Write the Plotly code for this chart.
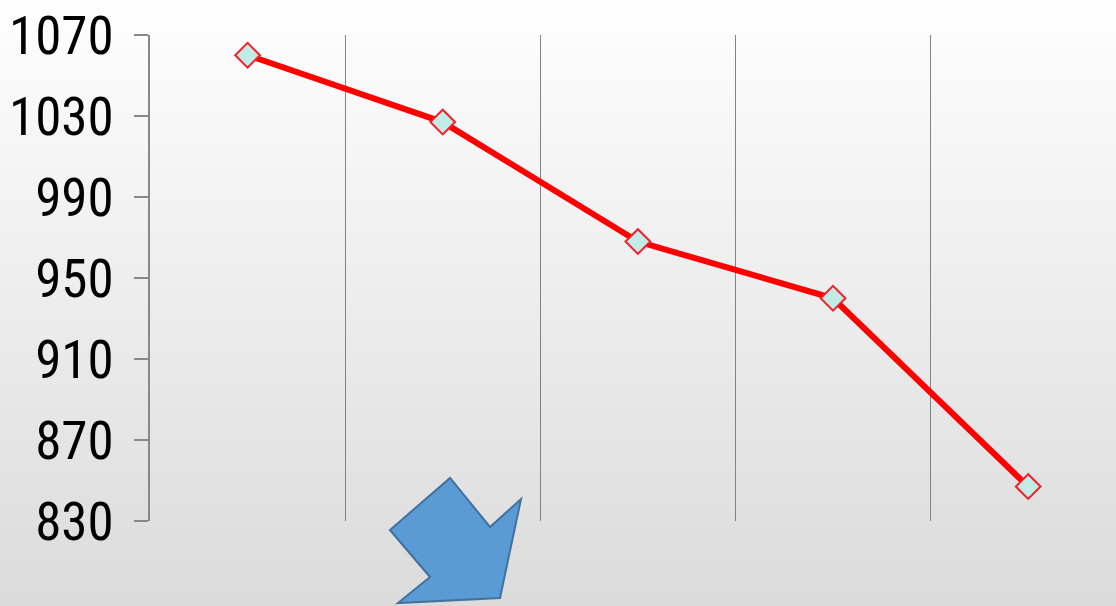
import plotly.graph_objects as go

categories = ["1", "2", "3", "4", "5"]
values = [1060, 1027, 968, 940, 847]
y_ticks = [830, 870, 910, 950, 990, 1030, 1070]

W, H = 1116, 606
L, T, B = 150, 35, 85
pw, ph = W - L, H - T - B

def px(x):
    return (x - L) / pw

def py(y):
    return (H - B - y) / ph

fig = go.Figure()
fig.add_trace(go.Scatter(
    x=categories, y=values, mode="lines+markers",
    line=dict(color="#ff0000", width=6),
    marker=dict(symbol="diamond", size=19, color="#c3ebe6",
                line=dict(color="#f0202a", width=2)),
    showlegend=False, hoverinfo="skip",
))

shapes = []
n = 120
for i in range(n):
    t = i / (n - 1)
    c = round(254 - (254 - 219) * t)
    y0 = i * H / n
    y1 = (i + 1) * H / n + 0.6
    shapes.append(dict(type="rect", xref="paper", yref="paper",
                       x0=px(0), x1=px(W), y0=py(y1), y1=py(y0),
                       fillcolor=f"rgb({c},{c},{c})", line=dict(width=0),
                       layer="below"))

arrow = [(450, 478), (490, 527), (521, 499), (500, 598), (398, 603), (430, 577), (390, 530)]
path = "M " + " L ".join(f"{px(a):.4f},{py(b):.4f}" for a, b in arrow) + " Z"
shapes.append(dict(type="path", xref="paper", yref="paper", path=path,
                   fillcolor="#5b9bd5", line=dict(color="#41719c", width=2),
                   layer="above"))

fig.update_layout(
    width=W, height=H,
    margin=dict(l=L, r=0, t=T, b=B),
    paper_bgcolor="#eeeeee",
    plot_bgcolor="rgba(0,0,0,0)",
    shapes=shapes,
    xaxis=dict(type="category", range=[-0.5, 4.45], showticklabels=False,
               tickson="boundaries", showgrid=True, gridcolor="#828282",
               gridwidth=1.4, ticks="", showline=False, zeroline=False),
    yaxis=dict(range=[830, 1070], tickvals=y_ticks, automargin=False,
               ticktext=[str(v) for v in y_ticks],
               showgrid=False, zeroline=False,
               showline=True, linecolor="#888888", linewidth=1.5,
               ticks="outside", ticklen=14, tickcolor="#888888", tickwidth=1.5,
               ticklabelstandoff=10,
               tickfont=dict(family="Roboto Condensed, Liberation Sans Narrow, sans-serif",
                             size=53, color="#000000")),
)

fig.write_html("out.html", config={"displayModeBar": False},
               post_script="document.body.style.margin='0';")
